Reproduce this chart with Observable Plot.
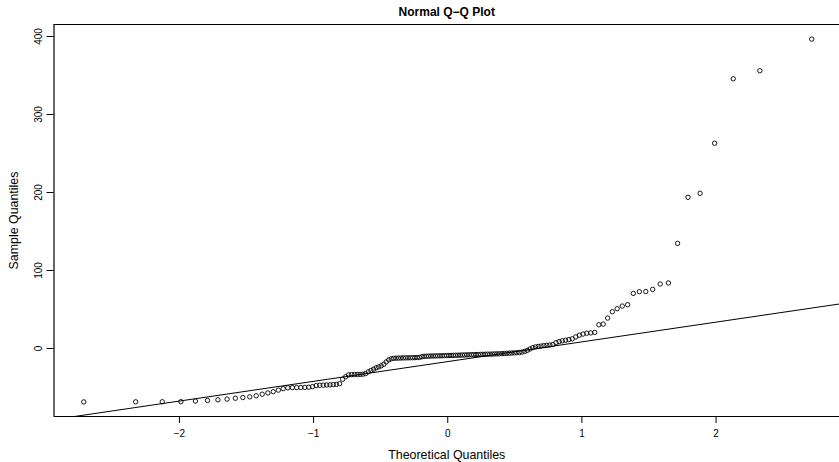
<!DOCTYPE html>
<html><head><meta charset="utf-8">
<script src="https://cdn.jsdelivr.net/npm/d3@7"></script>
<script src="https://cdn.jsdelivr.net/npm/@observablehq/plot@0.6"></script>
<style>html,body{margin:0;padding:0;background:#fff;overflow:hidden}</style>
</head><body><div id="chart"></div>
<script>
const title = "Normal Q\u2212Q Plot";
const xLabel = "Theoretical Quantiles";
const yLabel = "Sample Quantiles";
const xTicks = [-2, -1, 0, 1, 2];
const yTicks = [0, 100, 200, 300, 400];

// sorted sample values (n = 150)
const sampleQuantiles = [
  -68.5, -68.4, -68.3, -68.2, -67.4, -66.6, -65.8, -64.9, -63.8, -62.9,
  -62.0, -60.6, -58.6, -57.0, -55.4, -53.4, -51.5, -50.4, -50.2, -50.1,
  -50.0, -49.9, -49.6, -48.9, -47.6, -47.2, -47.0, -46.8, -46.6, -46.3,
  -46.0, -45.2, -39.5, -36.2, -33.8, -33.5, -33.4, -33.3, -33.2, -33.0,
  -32.2, -30.0, -28.2, -26.6, -24.8, -23.6, -22.2, -20.2, -17.2, -14.6,
  -13.2, -12.6, -12.4, -12.3, -12.2, -12.1, -12.0, -12.0, -11.9, -11.8,
  -11.7, -11.6, -11.4, -10.6, -10.1, -9.9, -9.8, -9.7, -9.6, -9.5,
  -9.5, -9.4, -9.3, -9.2, -9.1, -9.0, -8.9, -8.8, -8.7, -8.6,
  -8.5, -8.4, -8.3, -8.2, -8.1, -8.0, -7.9, -7.8, -7.7, -7.6,
  -7.5, -7.4, -7.3, -7.2, -7.1, -7.0, -6.9, -6.8, -6.6, -6.4,
  -6.2, -6.0, -5.8, -5.6, -5.4, -5.1, -4.6, -3.8, -2.4, -0.6,
  1.0, 2.0, 2.6, 3.1, 3.6, 4.0, 4.5, 5.0, 7.5, 8.8,
  9.8, 10.6, 11.4, 12.4, 14.8, 17.0, 18.5, 19.6, 20.0, 20.6,
  30.4, 31.3, 39.0, 47.1, 51.0, 54.4, 56.1, 70.6, 72.8, 73.0,
  75.8, 82.7, 84.0, 134.8, 193.8, 199.0, 263.2, 345.8, 356.1, 396.7
];

// reference line (qqline)
const lineIntercept = -16.8;
const lineSlope = 25.3;

// inverse normal CDF (Acklam) for theoretical quantiles, as qqnorm/ppoints
function qnorm(p) {
  const a = [-3.969683028665376e+01, 2.209460984245205e+02, -2.759285104469687e+02, 1.383577518672690e+02, -3.066479806614716e+01, 2.506628277459239e+00];
  const b = [-5.447609879822406e+01, 1.615858368580409e+02, -1.556989798598866e+02, 6.680131188771972e+01, -1.328068155288572e+01];
  const c = [-7.784894002430293e-03, -3.223964580411365e-01, -2.400758277161838e+00, -2.549732539343734e+00, 4.374664141464968e+00, 2.938163982698783e+00];
  const d = [7.784695709041462e-03, 3.224671290700398e-01, 2.445134137142996e+00, 3.754408661907416e+00];
  const pl = 0.02425, ph = 1 - pl;
  let q, r;
  if (p < pl) {
    q = Math.sqrt(-2 * Math.log(p));
    return (((((c[0]*q+c[1])*q+c[2])*q+c[3])*q+c[4])*q+c[5]) / ((((d[0]*q+d[1])*q+d[2])*q+d[3])*q+1);
  }
  if (p > ph) {
    q = Math.sqrt(-2 * Math.log(1 - p));
    return -(((((c[0]*q+c[1])*q+c[2])*q+c[3])*q+c[4])*q+c[5]) / ((((d[0]*q+d[1])*q+d[2])*q+d[3])*q+1);
  }
  q = p - 0.5; r = q * q;
  return (((((a[0]*r+a[1])*r+a[2])*r+a[3])*r+a[4])*r+a[5])*q / (((((b[0]*r+b[1])*r+b[2])*r+b[3])*r+b[4])*r+1);
}

const n = sampleQuantiles.length;
const points = sampleQuantiles.map((y, i) => ({x: qnorm((i + 1 - 0.5) / n), y}));

const xDomain = [-2.935, 2.92];
const yDomain = [-87.2, 415.4];
const lineData = xDomain.map(x => ({x, y: lineIntercept + lineSlope * x}));

const chart = Plot.plot({
  width: 839,
  height: 462,
  marginLeft: 53.5,
  marginRight: 0,
  marginTop: 24,
  marginBottom: 46,
  style: {fontFamily: "'Liberation Sans', Arial, Helvetica, sans-serif", background: "white", color: "black"},
  x: {domain: xDomain},
  y: {domain: yDomain},
  marks: [
    Plot.axisX({ticks: xTicks, tickFormat: "d", tickSize: 7, tickPadding: 6, fontSize: 10, label: null}),
    Plot.axisY({ticks: yTicks, tickSize: 7, tickFormat: () => "", label: null}),
    Plot.text(yTicks, {y: d => d, text: d => String(d), frameAnchor: "left", textAnchor: "middle", lineAnchor: "middle", dx: -15, rotate: -90, fontSize: 10}),
    Plot.ruleX([xDomain[0]], {stroke: "black", strokeWidth: 1.2}),
    Plot.ruleY([yDomain[0], yDomain[1]], {stroke: "black", strokeWidth: 1.2}),
    Plot.line(lineData, {x: "x", y: "y", stroke: "black", strokeWidth: 1, clip: true}),
    Plot.dot(points, {x: "x", y: "y", r: 2.2, stroke: "black", strokeWidth: 0.9, fill: "none"}),
    Plot.text([title], {frameAnchor: "top", textAnchor: "middle", lineAnchor: "middle", dy: -12, fontWeight: "bold", fontSize: 12}),
    Plot.text([xLabel], {frameAnchor: "bottom", textAnchor: "middle", lineAnchor: "middle", dy: 39, fontSize: 12.4}),
    Plot.text([yLabel], {frameAnchor: "left", textAnchor: "middle", lineAnchor: "middle", dx: -40, rotate: -90, fontSize: 12.4})
  ]
});
document.getElementById("chart").appendChild(chart);
</script>
</body></html>
